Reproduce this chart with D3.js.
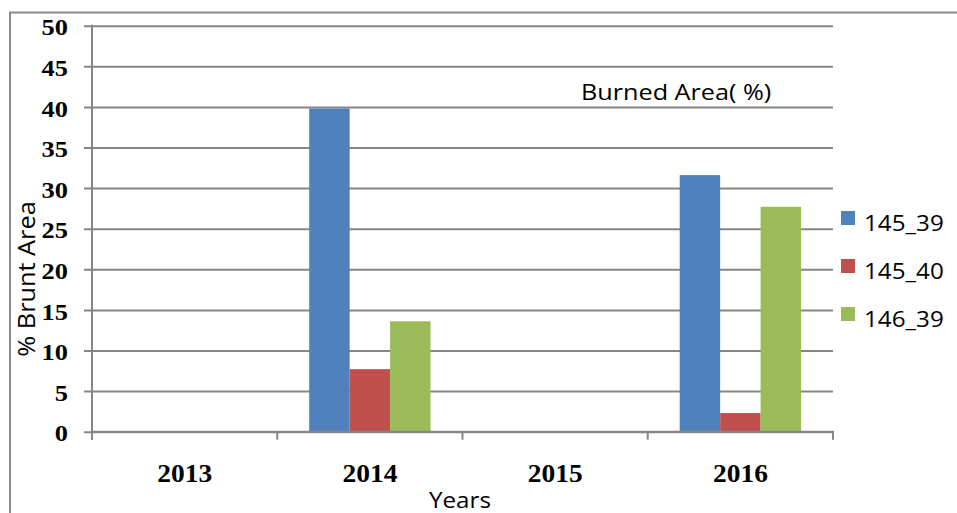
<!DOCTYPE html>
<html>
<head>
<meta charset="utf-8">
<script src="https://cdn.jsdelivr.net/npm/d3@7"></script>
<style>
  html, body { margin: 0; padding: 0; background: #fff; }
  svg { display: block; }
</style>
</head>
<body>
<svg id="chart" width="957" height="513"></svg>
<script>
// Burned area (%) per tile and year
const years = ["2013", "2014", "2015", "2016"];
const seriesNames = ["145_39", "145_40", "146_39"];
const v145_39 = [0, 39.8, 0, 31.6];
const v145_40 = [0, 7.7, 0, 2.3];
const v146_39 = [0, 13.6, 0, 27.7];
const colors = ["#4f81bd", "#c0504d", "#9bbb59"];
const yTicks = [0, 5, 10, 15, 20, 25, 30, 35, 40, 45, 50];

const seriesValues = [v145_39, v145_40, v146_39];
const rows = years.map((yr, i) => ({
  year: yr,
  vals: seriesNames.map((s, j) => ({ name: s, value: seriesValues[j][i], color: colors[j] }))
}));

const svg = d3.select("#chart");
const grid = "#868686";
const sans = "'Open Sans', 'Noto Sans', sans-serif";
const serif = "'Liberation Serif', 'Times New Roman', serif";

// Widen glyphs slightly, the way the chart's text is set
function widen(sel, k) {
  sel.each(function () {
    const w = this.getComputedTextLength();
    d3.select(this).attr("textLength", w * k).attr("lengthAdjust", "spacingAndGlyphs");
  });
}

// outer frame (top and left edges)
svg.append("path")
  .attr("d", "M10,513 V12.5 H957")
  .attr("fill", "none").attr("stroke", "#8a8a8a").attr("stroke-width", 2);

const plotLeft = 92, plotRight = 833, plotTop = 25.7, plotBottom = 431.7;

const y = d3.scaleLinear().domain([0, 50]).range([plotBottom, plotTop]);
const x0 = d3.scaleBand().domain(years).range([plotLeft, plotRight]).paddingInner(0).paddingOuter(0);
const x1 = d3.scaleBand().domain(seriesNames).range([0, x0.bandwidth()]).paddingInner(0).paddingOuter(0.79);

// horizontal gridlines + y axis
const yAxis = svg.append("g")
  .attr("transform", `translate(${plotLeft},0)`)
  .call(d3.axisLeft(y).tickValues(yTicks).tickSize(8).tickPadding(16).tickFormat(d3.format("d")));
yAxis.select(".domain").remove();
yAxis.selectAll(".tick line").attr("stroke", grid).attr("stroke-width", 2).attr("x2", plotRight - plotLeft).attr("x1", -8);
yAxis.selectAll(".tick text")
  .attr("fill", "#000").attr("font-family", serif).attr("font-weight", "bold").attr("font-size", 24)
  .attr("dy", "0.38em");
widen(yAxis.selectAll(".tick text"), 1.1);

// bars
const groups = svg.append("g").selectAll("g")
  .data(rows).join("g")
  .attr("transform", d => `translate(${x0(d.year)},0)`);
groups.selectAll("rect")
  .data(d => d.vals.filter(v => v.value > 0)).join("rect")
  .attr("x", d => x1(d.name))
  .attr("width", x1.bandwidth())
  .attr("y", d => y(d.value))
  .attr("height", d => y(0) - y(d.value))
  .attr("fill", d => d.color);

// vertical axis line
svg.append("line")
  .attr("x1", plotLeft).attr("x2", plotLeft).attr("y1", plotTop - 1).attr("y2", plotBottom + 8)
  .attr("stroke", grid).attr("stroke-width", 2);

// category axis
const xAxis = svg.append("g").attr("transform", `translate(0,${plotBottom})`);
xAxis.append("line").attr("x1", plotLeft).attr("x2", plotRight + 1).attr("stroke", grid).attr("stroke-width", 2);
const boundaries = years.map(d => x0(d)).concat([x0(years[years.length - 1]) + x0.bandwidth()]);
xAxis.selectAll("line.tk").data(boundaries).join("line")
  .attr("class", "tk")
  .attr("x1", d => d).attr("x2", d => d).attr("y1", 0).attr("y2", 8)
  .attr("stroke", grid).attr("stroke-width", 2);
const xl = xAxis.selectAll("text").data(years).join("text")
  .attr("x", d => x0(d) + x0.bandwidth() / 2)
  .attr("y", 50)
  .attr("text-anchor", "middle")
  .attr("font-family", serif).attr("font-weight", "bold").attr("font-size", 25)
  .text(d => d);
widen(xl, 1.1);

// titles
const tt = svg.append("text")
  .attr("x", 581).attr("y", 100)
  .attr("font-family", sans).attr("font-size", 22.5)
  .text("Burned Area( %)");
widen(tt, 1.12);

const xt = svg.append("text")
  .attr("x", 460).attr("y", 508)
  .attr("text-anchor", "middle")
  .attr("font-family", sans).attr("font-size", 22)
  .text("Years");
widen(xt, 1.1);

const yt = svg.append("text")
  .attr("transform", "translate(35,279) rotate(-90)")
  .attr("text-anchor", "middle")
  .attr("font-family", sans).attr("font-size", 23)
  .text("% Brunt Area");
widen(yt, 1.1);

// legend
const legend = svg.append("g").selectAll("g")
  .data(seriesNames).join("g")
  .attr("transform", (d, i) => `translate(841,${211 + i * 48})`);
legend.append("rect").attr("width", 14).attr("height", 14).attr("fill", (d, i) => colors[i]);
const lt = legend.append("text")
  .attr("x", 23).attr("y", 19.5)
  .attr("font-family", sans).attr("font-size", 22)
  .text(d => d);
widen(lt, 1.1);
</script>
</body>
</html>
